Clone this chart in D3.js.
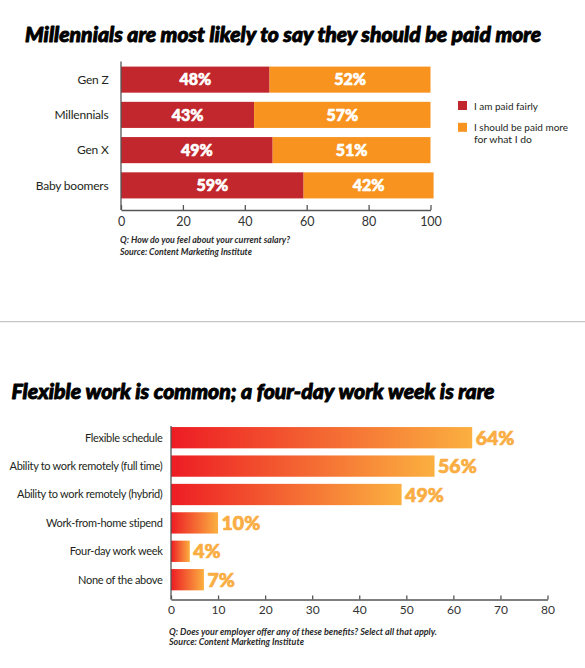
<!DOCTYPE html>
<html>
<head>
<meta charset="utf-8">
<script src="https://cdn.jsdelivr.net/npm/d3@7"></script>
<style>
  html, body { margin: 0; padding: 0; background: #fff; }
  svg { display: block; }
  text { font-family: Lato, "Open Sans", sans-serif; fill: #231F20; }
</style>
</head>
<body>
<svg id="chart" width="585" height="668"></svg>
<script>
// ---------- data ----------
const title1 = "Millennials are most likely to say they should be paid more";
const generations = ["Gen Z", "Millennials", "Gen X", "Baby boomers"];
const paidFairly = [48, 43, 49, 59];
const paidMore = [52, 57, 51, 42];
const salaryTicks = [0, 20, 40, 60, 80, 100];
const legendLabels = [["I am paid fairly"], ["I should be paid more", "for what I do"]];
const caption1 = ["Q: How do you feel about your current salary?", "Source: Content Marketing Institute"];

const title2 = "Flexible work is common; a four-day work week is rare";
const benefits = ["Flexible schedule", "Ability to work remotely (full time)", "Ability to work remotely (hybrid)",
                  "Work-from-home stipend", "Four-day work week", "None of the above"];
const benefitValues = [64, 56, 49, 10, 4, 7];
const benefitTicks = [0, 10, 20, 30, 40, 50, 60, 70, 80];
const caption2 = ["Q: Does your employer offer any of these benefits? Select all that apply.", "Source: Content Marketing Institute"];

// ---------- styles ----------
const RED = "#C1272D", ORANGE = "#F7931E";
const GRAD_L = "#ED1C24", GRAD_R = "#FBB040", LABEL_OR = "#F9AD42";
const AXIS = "#555";
const caption1Widths = [170, 132];
const caption2Widths = [268, 135];
const legendWidths = [[64], [94, 58]];

const svg = d3.select("#chart");

// ======================= chart 1 =======================
svg.append("text").attr("x", 25).attr("y", 41.5)
  .attr("font-size", 21).attr("font-weight", 900).attr("font-style", "italic")
  .attr("stroke", "#000").attr("stroke-width", 0.9).attr("stroke-linejoin", "round")
  .attr("textLength", 516).attr("lengthAdjust", "spacingAndGlyphs")
  .style("fill", "#000").text(title1);

const x1 = d3.scaleLinear().domain([0, 100]).range([121, 430.5]);
const y1 = d3.scaleBand().domain(generations).range([62, 203]).paddingInner(0.26).paddingOuter(0.13);
const axisY1 = 210;

const rows1 = generations.map((g, i) => ({ g, a: paidFairly[i], b: paidMore[i] }));
const g1 = svg.append("g");
g1.selectAll("rect.a").data(rows1).join("rect")
  .attr("x", d => x1(0)).attr("y", d => y1(d.g))
  .attr("width", d => x1(d.a) - x1(0)).attr("height", y1.bandwidth()).attr("fill", RED);
g1.selectAll("rect.b").data(rows1).join("rect")
  .attr("x", d => x1(d.a)).attr("y", d => y1(d.g))
  .attr("width", d => x1(d.a + d.b) - x1(d.a)).attr("height", y1.bandwidth()).attr("fill", ORANGE);
function whiteLabel(sel) {
  sel.attr("dy", "0.36em").attr("text-anchor", "middle").attr("font-size", 16).attr("font-weight", 900)
    .attr("stroke", "#fff").attr("stroke-width", 0.6).attr("stroke-linejoin", "round")
    .style("fill", "#fff");
}
g1.selectAll("text.la").data(rows1).join("text")
  .attr("x", d => (x1(0) + x1(d.a)) / 2).attr("y", d => y1(d.g) + y1.bandwidth() / 2)
  .call(whiteLabel).text(d => d.a + "%");
g1.selectAll("text.lb").data(rows1).join("text")
  .attr("x", d => (x1(d.a) + x1(d.a + d.b)) / 2).attr("y", d => y1(d.g) + y1.bandwidth() / 2)
  .call(whiteLabel).text(d => d.b + "%");
g1.selectAll("text.cat").data(generations).join("text")
  .attr("x", 108.5).attr("y", d => y1(d) + y1.bandwidth() / 2).attr("dy", "0.35em")
  .attr("text-anchor", "end").attr("font-size", 12).attr("letter-spacing", -0.2).text(d => d);

// axes
svg.append("line").attr("x1", x1(0)).attr("x2", x1(0)).attr("y1", 61.5).attr("y2", axisY1)
  .attr("stroke", AXIS).attr("stroke-width", 1.3);
const ax1 = svg.append("g").attr("transform", `translate(0,${axisY1})`)
  .call(d3.axisBottom(x1).tickValues(salaryTicks).tickSizeInner(-5).tickSizeOuter(0).tickPadding(7));
ax1.select(".domain").attr("stroke", AXIS).attr("stroke-width", 1.5);
ax1.selectAll(".tick line").attr("stroke", AXIS).attr("stroke-width", 1.3);
ax1.selectAll(".tick text").attr("font-family", "Lato, sans-serif").attr("font-size", 12.5).style("fill", "#333");

// legend
const leg = svg.append("g");
const legendColors = [RED, ORANGE];
const legendY = [101, 122.8];
legendLabels.forEach((lines, i) => {
  leg.append("rect").attr("x", 458).attr("y", legendY[i]).attr("width", 9).attr("height", 9).attr("fill", legendColors[i]);
  lines.forEach((s, j) => {
    leg.append("text").attr("x", 474).attr("y", legendY[i] + 8.5 + j * 12)
      .attr("font-size", 10)
      .attr("textLength", legendWidths[i][j]).attr("lengthAdjust", "spacingAndGlyphs").text(s);
  });
});

// caption
caption1.forEach((t, i) => {
  svg.append("text").attr("x", 120).attr("y", 243 + i * 11.5)
    .attr("font-size", 9).attr("font-style", "italic").attr("font-weight", 700)
    .attr("textLength", caption1Widths[i]).attr("lengthAdjust", "spacingAndGlyphs")
    .style("fill", "#2a2a2a").text(t);
});

// divider
svg.append("line").attr("x1", 0).attr("x2", 585).attr("y1", 321.7).attr("y2", 321.7)
  .attr("stroke", "#c6c6c6").attr("stroke-width", 1.3);

// ======================= chart 2 =======================
svg.append("text").attr("x", 11.5).attr("y", 399)
  .attr("font-size", 21).attr("font-weight", 900).attr("font-style", "italic")
  .attr("stroke", "#000").attr("stroke-width", 0.9).attr("stroke-linejoin", "round")
  .attr("textLength", 483).attr("lengthAdjust", "spacingAndGlyphs")
  .style("fill", "#000").text(title2);

const defs = svg.append("defs");
const grad = defs.append("linearGradient").attr("id", "barGrad").attr("x1", "0%").attr("x2", "100%").attr("y1", "0%").attr("y2", "0%");
grad.append("stop").attr("offset", "0%").attr("stop-color", GRAD_L);
grad.append("stop").attr("offset", "100%").attr("stop-color", GRAD_R);

const x2 = d3.scaleLinear().domain([0, 80]).range([171, 547.5]);
const y2 = d3.scaleBand().domain(benefits).range([423.5, 593.9]).paddingInner(0.25).paddingOuter(0.125);
const axisY2 = 599.5;
const rows2 = benefits.map((b, i) => ({ b, v: benefitValues[i] }));

const g2 = svg.append("g");
g2.selectAll("rect").data(rows2).join("rect")
  .attr("x", x2(0)).attr("y", d => y2(d.b))
  .attr("width", d => x2(d.v) - x2(0)).attr("height", y2.bandwidth()).attr("fill", "url(#barGrad)");
g2.selectAll("text.val").data(rows2).join("text")
  .attr("x", d => x2(d.v) + 3.5).attr("y", d => y2(d.b) + y2.bandwidth() / 2).attr("dy", "0.36em")
  .attr("font-size", 19.5).attr("font-weight", 900)
  .attr("stroke", LABEL_OR).attr("stroke-width", 0.7).attr("stroke-linejoin", "round")
  .style("fill", LABEL_OR).text(d => d.v + "%");
g2.selectAll("text.cat").data(benefits).join("text")
  .attr("x", 162.5).attr("y", d => y2(d) + y2.bandwidth() / 2).attr("dy", "0.35em")
  .attr("text-anchor", "end").attr("font-size", 11).attr("letter-spacing", -0.3).text(d => d);

svg.append("line").attr("x1", x2(0)).attr("x2", x2(0)).attr("y1", 426).attr("y2", axisY2)
  .attr("stroke", AXIS).attr("stroke-width", 1.3);
const ax2 = svg.append("g").attr("transform", `translate(0,${axisY2})`)
  .call(d3.axisBottom(x2).tickValues(benefitTicks).tickSizeInner(-4).tickSizeOuter(0).tickPadding(6));
ax2.select(".domain").attr("stroke", AXIS).attr("stroke-width", 1.5);
ax2.selectAll(".tick line").attr("stroke", AXIS).attr("stroke-width", 1.3);
ax2.selectAll(".tick text").attr("font-family", "Lato, sans-serif").attr("font-size", 12).style("fill", "#333");

caption2.forEach((t, i) => {
  svg.append("text").attr("x", 169).attr("y", 634.5 + i * 10.7)
    .attr("font-size", 9).attr("font-style", "italic").attr("font-weight", 700)
    .attr("textLength", caption2Widths[i]).attr("lengthAdjust", "spacingAndGlyphs")
    .style("fill", "#2a2a2a").text(t);
});
</script>
</body>
</html>
